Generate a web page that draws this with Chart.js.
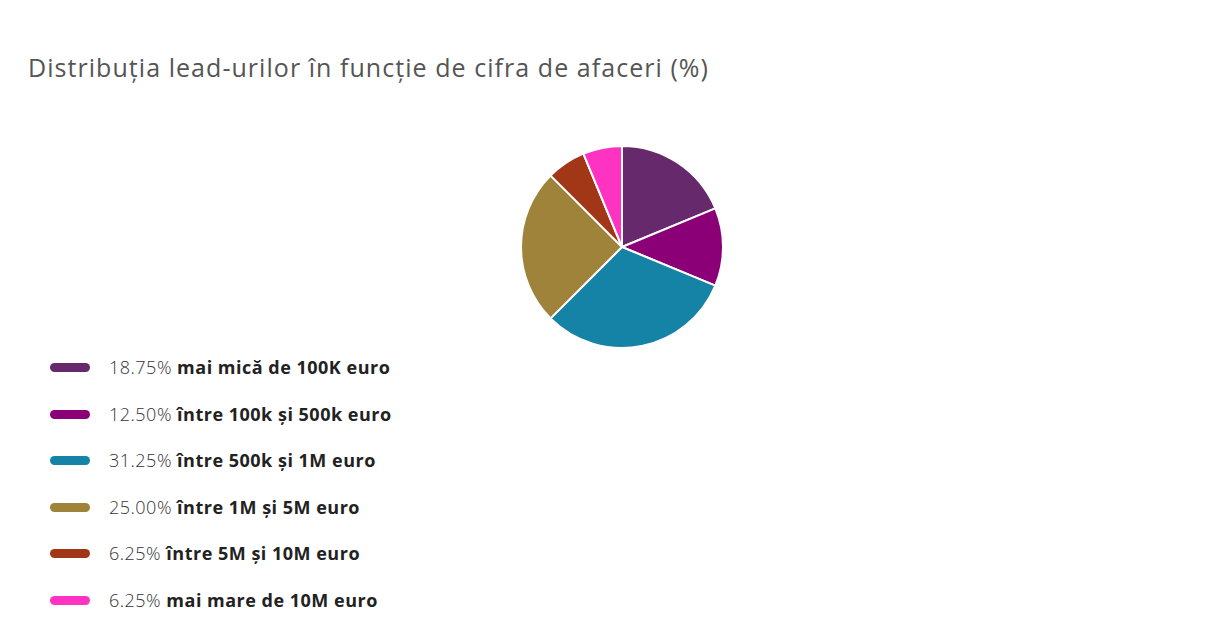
<!DOCTYPE html>
<html>
<head>
<meta charset="utf-8">
<script src="https://cdn.jsdelivr.net/npm/chart.js@4.4.1/dist/chart.umd.min.js"></script>
<style>
  html, body { margin: 0; padding: 0; background: #fff; }
  body { width: 1232px; height: 643px; position: relative; overflow: hidden; font-family: "Open Sans", sans-serif; }
  #title { position: absolute; left: 28px; top: 50px; font-size: 25px; letter-spacing: 1.05px; color: #555; font-weight: 400; white-space: nowrap; }
  #wrap { position: absolute; left: 520px; top: 145px; width: 204px; height: 204px; }
  #legend { position: absolute; left: 50px; top: 355px; }
  .row { height: 46.6px; display: flex; align-items: flex-start; }
  .sw { width: 40px; height: 9px; border-radius: 5px; margin-top: 8px; margin-right: 19px; }
  .txt { font-size: 18px; line-height: 24px; color: #333; white-space: nowrap; letter-spacing: 0.5px; }
  .pct { font-weight: 300; color: #333; }
  .lbl { font-weight: 700; color: #222; }
</style>
</head>
<body>
<div id="title">Distribuția lead-urilor în funcție de cifra de afaceri (%)</div>
<div id="wrap"><canvas id="chart" width="204" height="204"></canvas></div>
<div id="legend"></div>
<script>
var labels = ['mai mică de 100K euro', 'între 100k și 500k euro', 'între 500k și 1M euro', 'între 1M și 5M euro', 'între 5M și 10M euro', 'mai mare de 10M euro'];
var values = [18.75, 12.5, 31.25, 25, 6.25, 6.25];
var colors = ['#66296b', '#8b0077', '#1483a6', '#a0833a', '#a23718', '#ff33c2'];

var chart = new Chart(document.getElementById('chart'), {
    type: 'pie',
    data: {
        labels: labels,
        datasets: [{
            data: values,
            backgroundColor: colors,
            borderColor: '#fff',
            borderWidth: 2,
            hoverOffset: 0
        }]
    },
    options: {
        responsive: false,
        animation: false,
        layout: { padding: 0 },
        plugins: {
            legend: { display: false },
            tooltip: { enabled: false }
        }
    }
});

// html legend, built from the same arrays
var leg = document.getElementById('legend');
labels.forEach(function (l, i) {
    var row = document.createElement('div');
    row.className = 'row';
    row.innerHTML = '<div class="sw" style="background:' + colors[i] + '"></div>' +
        '<div class="txt"><span class="pct">' + values[i].toFixed(2) + '%</span> <span class="lbl">' + l + '</span></div>';
    leg.appendChild(row);
});
</script>
</body>
</html>
